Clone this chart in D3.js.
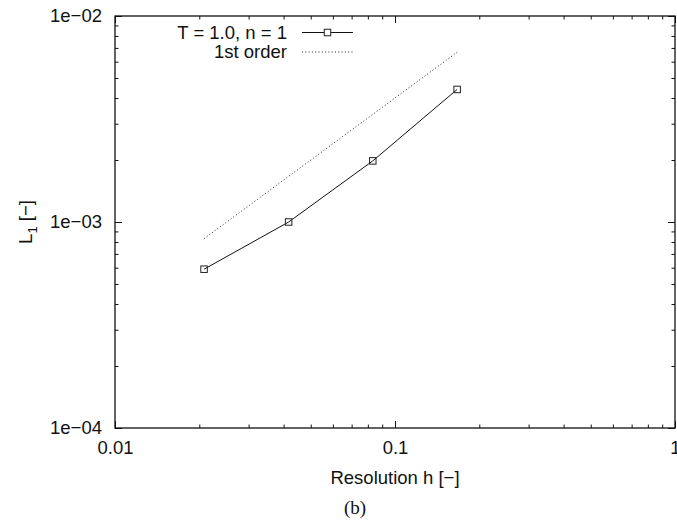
<!DOCTYPE html>
<html>
<head>
<meta charset="utf-8">
<script src="https://cdn.jsdelivr.net/npm/d3@7"></script>
<style>
  html, body { margin: 0; padding: 0; background: #fff; }
  svg { display: block; }
  text { font-family: "Liberation Sans", Arial, Helvetica, sans-serif; fill: #111; }
</style>
</head>
<body>
<script>
// Convergence data: L1 error against grid resolution
const resolution = [0.0208, 0.0417, 0.0833, 0.1667];
const errorL1 = [5.9e-4, 1.0e-3, 1.98e-3, 4.4e-3];

// Reference slope line of first order
const firstOrderH = [0.0208, 0.1667];
const firstOrderL1 = [8.3e-4, 6.67e-3];

// Axis ticks
const xMajorTicks = [0.01, 0.1, 1];
const xTickLabels = ["0.01", "0.1", "1"];
const yMajorTicks = [1e-4, 1e-3, 1e-2];
const yTickLabels = ["1e\u221204", "1e\u221203", "1e\u221202"];

const seriesLabels = ["T = 1.0, n = 1", "1st order"];
const xLabel = "Resolution h [\u2212]";
const caption = "(b)";

(function () {
const W = 677, H = 524;
const mLeft = 115, mRight = 675, mTop = 16, mBottom = 428;
const fs = 18.5;

const svg = d3.select("body").append("svg").attr("width", W).attr("height", H);

const x = d3.scaleLog().domain([0.01, 1]).range([mLeft, mRight]);
const y = d3.scaleLog().domain([1e-4, 1e-2]).range([mBottom, mTop]);

function minorTicks(majors) {
  const out = [];
  for (let i = 0; i < majors.length - 1; i++) {
    for (let k = 2; k <= 9; k++) out.push(majors[i] * k);
  }
  return out;
}
const xMinor = minorTicks(xMajorTicks);
const yMinor = minorTicks(yMajorTicks);

const majorLen = 7, minorLen = 3.5;

function styleAxis(g) {
  g.select(".domain").remove();
  g.selectAll(".tick line").attr("stroke", "#111").attr("stroke-width", 1);
  g.selectAll(".tick text").attr("font-size", fs).attr("fill", "#111")
    .attr("font-family", "\"Liberation Sans\", Arial, sans-serif");
}

// Bottom axis: majors with labels, minors without
svg.append("g").attr("transform", `translate(0,${mBottom})`)
  .call(d3.axisBottom(x).tickValues(xMajorTicks).tickSizeInner(-majorLen).tickSizeOuter(0)
    .tickPadding(13).tickFormat((d, i) => xTickLabels[i]))
  .call(styleAxis);
svg.append("g").attr("transform", `translate(0,${mBottom})`)
  .call(d3.axisBottom(x).tickValues(xMinor).tickSizeInner(-minorLen).tickSizeOuter(0).tickFormat(""))
  .call(styleAxis);
// Top axis mirror
svg.append("g").attr("transform", `translate(0,${mTop})`)
  .call(d3.axisTop(x).tickValues(xMajorTicks).tickSizeInner(-majorLen).tickSizeOuter(0).tickFormat(""))
  .call(styleAxis);
svg.append("g").attr("transform", `translate(0,${mTop})`)
  .call(d3.axisTop(x).tickValues(xMinor).tickSizeInner(-minorLen).tickSizeOuter(0).tickFormat(""))
  .call(styleAxis);

// Left axis
svg.append("g").attr("transform", `translate(${mLeft},0)`)
  .call(d3.axisLeft(y).tickValues(yMajorTicks).tickSizeInner(-majorLen).tickSizeOuter(0)
    .tickPadding(13).tickFormat((d, i) => yTickLabels[i]))
  .call(styleAxis);
svg.append("g").attr("transform", `translate(${mLeft},0)`)
  .call(d3.axisLeft(y).tickValues(yMinor).tickSizeInner(-minorLen).tickSizeOuter(0).tickFormat(""))
  .call(styleAxis);
// Right axis mirror
svg.append("g").attr("transform", `translate(${mRight},0)`)
  .call(d3.axisRight(y).tickValues(yMajorTicks).tickSizeInner(-majorLen).tickSizeOuter(0).tickFormat(""))
  .call(styleAxis);
svg.append("g").attr("transform", `translate(${mRight},0)`)
  .call(d3.axisRight(y).tickValues(yMinor).tickSizeInner(-minorLen).tickSizeOuter(0).tickFormat(""))
  .call(styleAxis);

// Plot frame
svg.append("rect")
  .attr("x", mLeft).attr("y", mTop)
  .attr("width", mRight - mLeft).attr("height", mBottom - mTop)
  .attr("fill", "none").attr("stroke", "#111").attr("stroke-width", 1.3);

// First-order reference (dotted)
const line = d3.line().x(d => x(d[0])).y(d => y(d[1]));
svg.append("path")
  .datum(firstOrderH.map((h, i) => [h, firstOrderL1[i]]))
  .attr("d", line)
  .attr("fill", "none").attr("stroke", "#222").attr("stroke-width", 1)
  .attr("stroke-dasharray", "1,2.3");

// Measured error curve
const pts = resolution.map((h, i) => [h, errorL1[i]]);
svg.append("path").datum(pts).attr("d", line)
  .attr("fill", "none").attr("stroke", "#111").attr("stroke-width", 1);

const ms = 6.5;
svg.selectAll(".marker").data(pts).enter().append("rect")
  .attr("class", "marker")
  .attr("x", d => x(d[0]) - ms / 2).attr("y", d => y(d[1]) - ms / 2)
  .attr("width", ms).attr("height", ms)
  .attr("fill", "none").attr("stroke", "#222").attr("stroke-width", 1);

// Legend
const legX = 287, legY0 = 32.5, legDy = 19.5;
const sampleX0 = 302, sampleX1 = 353;
svg.append("text").attr("x", legX).attr("y", legY0).attr("dy", "0.35em")
  .attr("text-anchor", "end").attr("font-size", fs).text(seriesLabels[0]);
svg.append("line").attr("x1", sampleX0).attr("x2", sampleX1)
  .attr("y1", legY0).attr("y2", legY0).attr("stroke", "#111").attr("stroke-width", 1);
svg.append("rect").attr("x", (sampleX0 + sampleX1) / 2 - ms / 2).attr("y", legY0 - ms / 2)
  .attr("width", ms).attr("height", ms).attr("fill", "#fff").attr("stroke", "#222");
svg.append("text").attr("x", legX).attr("y", legY0 + legDy).attr("dy", "0.35em")
  .attr("text-anchor", "end").attr("font-size", fs).text(seriesLabels[1]);
svg.append("line").attr("x1", sampleX0).attr("x2", sampleX1)
  .attr("y1", legY0 + legDy).attr("y2", legY0 + legDy)
  .attr("stroke", "#222").attr("stroke-width", 1).attr("stroke-dasharray", "1,2.3");

// Axis titles
svg.append("text").attr("x", (mLeft + mRight) / 2).attr("y", 484)
  .attr("text-anchor", "middle").attr("font-size", fs).text(xLabel);

const yl = svg.append("text")
  .attr("transform", `translate(32,${(mTop + mBottom) / 2}) rotate(-90)`)
  .attr("text-anchor", "middle").attr("font-size", fs);
yl.append("tspan").text("L");
yl.append("tspan").attr("dy", 5).attr("font-size", 13).text("1");
yl.append("tspan").attr("dy", -5).text(" [\u2212]");

// Caption
svg.append("text").attr("x", 355).attr("y", 514)
  .attr("text-anchor", "middle").attr("font-size", 19)
  .style("font-family", "\"Liberation Serif\", \"Times New Roman\", serif")
  .text(caption);
})();
</script>
</body>
</html>
